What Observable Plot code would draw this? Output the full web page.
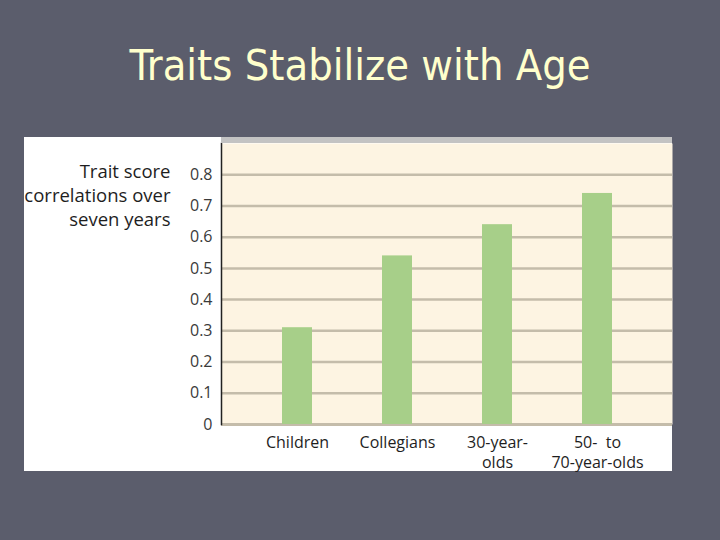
<!DOCTYPE html>
<html>
<head>
<meta charset="utf-8">
<script src="https://cdn.jsdelivr.net/npm/d3@7"></script>
<script src="https://cdn.jsdelivr.net/npm/@observablehq/plot@0.6"></script>
<style>
  html, body { margin: 0; padding: 0; }
  body { width: 720px; height: 540px; background: #5b5d6c; position: relative; overflow: hidden; }
  #title { position: absolute; left: 0; top: 40px; width: 720px; text-align: center;
    font-family: "DejaVu Sans Condensed", "DejaVu Sans", sans-serif; font-size: 43px; color: #ffffcc; }
  #panel { position: absolute; left: 24px; top: 137px; width: 648px; height: 334px; background: #ffffff; overflow: visible; }
  #strip { position: absolute; left: 197px; top: 0; width: 451px; height: 6px; background: #c3c3c3; }
  #chart { position: absolute; left: 0; top: 0; }
</style>
</head>
<body>
<div id="title">Traits Stabilize with Age</div>
<div id="panel"><div id="chart"></div><div id="strip"></div></div>
<script>
const categories = ["Children", "Collegians", "30-year-olds", "50- to 70-year-olds"];
const tickLabels = ["Children", "Collegians", "30-year-\nolds", "50-  to\n70-year-olds"];
const correlations = [0.31, 0.54, 0.64, 0.74];
const yTicks = [0, 0.1, 0.2, 0.3, 0.4, 0.5, 0.6, 0.7, 0.8];
const gridTicks = [0.1, 0.2, 0.3, 0.4, 0.5, 0.6, 0.7, 0.8];
const yLabel = "Trait score\ncorrelations over\nseven years";

const data = categories.map((c, i) => ({category: c, value: correlations[i]}));
const labelOf = new Map(categories.map((c, i) => [c, tickLabels[i]]));

const font = "'Open Sans', sans-serif";
const chart = Plot.plot({
  width: 648,
  height: 346,
  marginLeft: 197,
  marginRight: 0,
  marginTop: 6,
  marginBottom: 59,
  style: {background: "transparent", fontFamily: font, fontSize: "16px", color: "#333", overflow: "visible"},
  x: {domain: categories, paddingInner: 0.7, paddingOuter: 0.605, align: 0.5},
  y: {domain: [0, 0.9]},
  marks: [
    Plot.frame({fill: "#fdf4e2", stroke: null}),
    Plot.ruleY(gridTicks, {stroke: "#c4bcaa", strokeWidth: 2.5}),
    Plot.ruleY([0], {stroke: "#c4bcaa", strokeWidth: 3}),
    Plot.barY(data, {x: "category", y: "value", fill: "#a7cf89"}),
    Plot.frame({anchor: "left", stroke: "#222", strokeWidth: 1.5}),
    Plot.axisY({ticks: yTicks, tickSize: 0, tickPadding: 9, tickFormat: d => d === 0 ? "0" : d3.format(".1f")(d),
      fontSize: 16, fill: "#3a3a3a", label: null}),
    Plot.axisX({tickSize: 0, tickPadding: 9, tickFormat: d => labelOf.get(d), fontSize: 16, fill: "#1e1e1e",
      lineHeight: 1.25, label: null}),
    Plot.text([yLabel], {frameAnchor: "top-left", dx: -51, dy: 18, textAnchor: "end", lineAnchor: "top",
      fontSize: 18.5, fill: "#1e1e1e", lineHeight: 1.28})
  ]
});
document.getElementById("chart").appendChild(chart);
</script>
</body>
</html>
